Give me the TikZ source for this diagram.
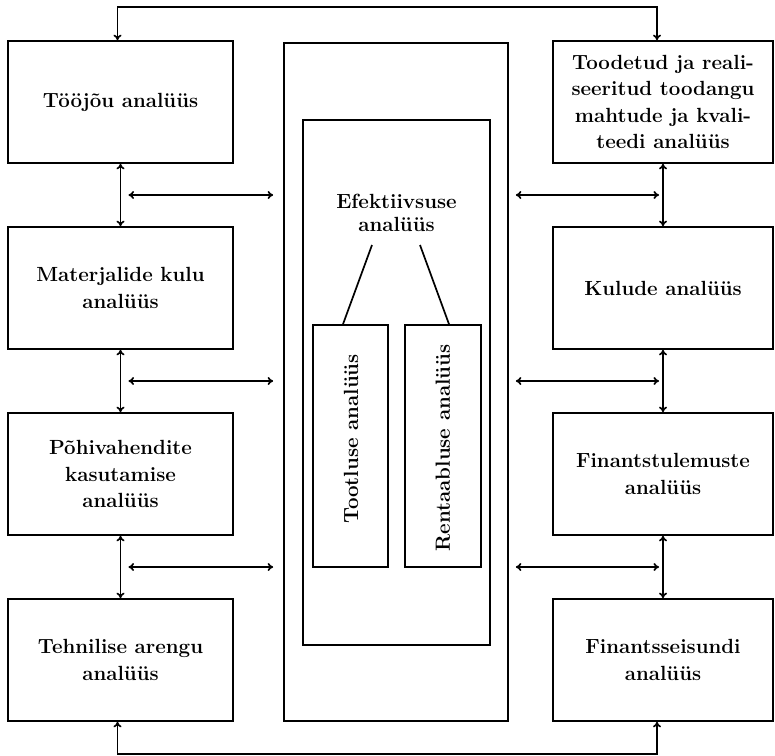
\documentclass[tikz,border=0pt]{standalone}
\usepackage{fontspec}
\usetikzlibrary{arrows.meta,calc}
\begin{document}
\begin{tikzpicture}[x=1pt,y=-1pt,line width=1.7pt,
  txt/.style={font=\fontsize{20.5}{26.5}\selectfont\bfseries, align=center},
  box/.style={txt, draw, inner sep=0pt, minimum height=122pt},
  lbox/.style={box, minimum width=225pt},
  rbox/.style={box, minimum width=220pt},
  tip/.tip={To[length=5.5pt,width=8pt]},
  arr/.style={tip-tip},
  plain/.style={draw, inner sep=0pt}]
\useasboundingbox (0,0) rectangle (775,755);
% left column
\node[lbox] (L1) at (120.5,102) {Tööjõu analüüs};
\node[lbox] (L2) at (120.5,288) {Materjalide kulu\\analüüs};
\node[lbox] (L3) at (120.5,474) {Põhivahendite\\kasutamise\\analüüs};
\node[lbox] (L4) at (120.5,660) {Tehnilise arengu\\analüüs};
% right column
\node[rbox] (R1) at (663,102) {Toodetud ja reali-\\seeritud toodangu\\mahtude ja kvali-\\teedi analüüs};
\node[rbox] (R2) at (663,288) {Kulude analüüs};
\node[rbox] (R3) at (663,474) {Finantstulemuste\\analüüs};
\node[rbox] (R4) at (663,660) {Finantsseisundi\\analüüs};
% centre
\node[plain, minimum width=224pt, minimum height=678pt] (O) at (396,382) {};
\node[plain, minimum width=187pt, minimum height=525pt] (I) at (396.5,382.5) {};
\node[txt, font=\fontsize{20.5}{23}\selectfont\bfseries] (E) at (396.5,213) {Efektiivsuse\\analüüs};
\node[plain, minimum width=75pt, minimum height=242pt] (T) at (350.5,446) {};
\node[plain, minimum width=76pt, minimum height=242pt] (RB) at (443,446) {};
\node[txt, rotate=90] (Tt) at (351,439) {Tootluse analüüs};
\node[txt, rotate=90] (RBt) at (443,448) {Rentaabluse analüüs};
\coordinate (el) at (372,245);
\coordinate (er) at (420,245);
\draw (el) -- ([xshift=-7.5pt]T.north);
\draw (er) -- ([xshift=6pt]RB.north);
% vertical links
\draw[arr] (L1) -- (L2);
\draw[arr] (L2) -- (L3);
\draw[arr] (L3) -- (L4);
\draw[arr] (R1) -- (R2);
\draw[arr] (R2) -- (R3);
\draw[arr] (R3) -- (R4);
% horizontal links
\foreach \a/\b/\i in {L1/L2/1,L2/L3/2,L3/L4/3}{
  \coordinate (lm\i) at ($(\a.south)!.5!(\b.north)$);
  \draw[arr] ([xshift=8pt]lm\i) -- ([xshift=-10pt]lm\i -| O.west);
}
\foreach \a/\b/\i in {R1/R2/1,R2/R3/2,R3/R4/3}{
  \coordinate (rm\i) at ($(\a.south)!.5!(\b.north)$);
  \draw[arr] ([xshift=7pt]rm\i -| O.east) -- ([xshift=-4pt]rm\i);
}
% top and bottom loops
\draw[arr] ([xshift=-3pt]L1.north) -- ++(0,-33) -| ([xshift=-6pt]R1.north);
\draw[arr] ([xshift=-3pt]L4.south) -- ++(0,32) -| ([xshift=-6pt]R4.south);
\end{tikzpicture}
\end{document}
